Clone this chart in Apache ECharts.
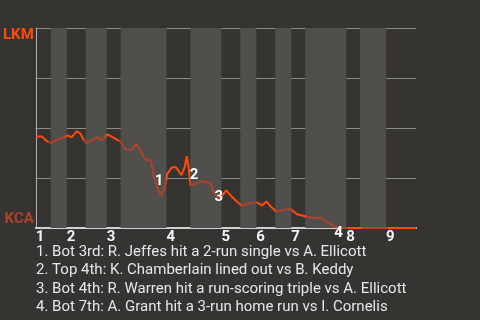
<!DOCTYPE html>
<html>
<head>
<meta charset="utf-8">
<script src="https://cdn.jsdelivr.net/npm/echarts@6/dist/echarts.min.js"></script>
<style>
html,body{margin:0;padding:0;background:#363430;}
#chart{width:480px;height:320px;}
</style>
</head>
<body>
<div id="chart"></div>
<script>
// Event index (x) and LKM win probability in % (y)
var eventX = [0, 6, 11.3, 15.3, 18.7, 23, 28, 32.3, 35.7, 41.3, 44.7, 47.3, 50.7, 55.3, 61.3, 66.3, 71.7, 78.3, 85, 90, 95.7, 100.7, 105.7, 109.3, 115, 118.3, 121.7, 125.7, 129, 131.7, 136.7, 140.7, 146, 149.3, 151.3, 153.3, 155, 160, 166.7, 170, 175.3, 179.3, 183.3, 187.3, 190.7, 196, 201.7, 207.3, 211.7, 221, 226.7, 231, 235.7, 241, 247.7, 255, 261.7, 270, 275.7, 282.3, 285, 291.7, 300, 305, 381];
var winProb = [45.8, 45.8, 43.4, 42.4, 43.4, 44.4, 45.4, 46.3, 45.3, 48.4, 47.1, 44.8, 42.4, 43.4, 45.4, 43.8, 46.8, 45.1, 43.1, 39.3, 39.1, 42.1, 38.1, 34.4, 33.8, 25.9, 20.1, 16.3, 20.1, 27.1, 30.4, 30.4, 26.4, 30.4, 35.9, 30.1, 21.3, 22.1, 23.4, 23.1, 22.1, 16.8, 15.1, 16.4, 18.8, 15.9, 13.1, 10.9, 12.3, 12.9, 11.3, 13.3, 10.6, 8.3, 8.9, 9.6, 6.9, 5.9, 5.3, 4.9, 5.3, 2.9, 0.6, 0, 0];
// Half-inning boundaries (event index): top1 start ... end of top9
var halfInningStarts = [0, 15, 31, 50, 71, 85, 131, 155, 186, 205, 221, 240, 256, 270, 311, 325, 351, 381];
var inningLabels = ['1', '2', '3', '4', '5', '6', '7', '8', '9'];
var teams = ['LKM', 'KCA'];
// Annotations
var annLabels = ['1', '2', '3', '4'];
var annX = [124, 159, 184, 304];
var annY = [23, 26, 15, -3];
var annTexts = [
  '1. Bot 3rd: R. Jeffes hit a 2-run single vs A. Ellicott',
  '2. Top 4th: K. Chamberlain lined out vs B. Keddy',
  '3. Bot 4th: R. Warren hit a run-scoring triple vs A. Ellicott',
  '4. Bot 7th: A. Grant hit a 3-run home run vs I. Cornelis'
];

var AWAY = '#ff4a0a', HOME = '#b0412c';
var FONT = 'Roboto, "Noto Sans", sans-serif';

var xMin = halfInningStarts[0], xMax = halfInningStarts[halfInningStarts.length - 1];
var lineData = eventX.map(function (x, i) { return [x, winProb[i]]; });
var bands = [], stops = [], inningStarts = [];
for (var i = 0; i < halfInningStarts.length - 1; i++) {
  var a = halfInningStarts[i], b = halfInningStarts[i + 1];
  var isTop = i % 2 === 0;
  var c = isTop ? AWAY : HOME;
  if (isTop) inningStarts.push(a);
  else bands.push([{ xAxis: a }, { xAxis: b }]);
  stops.push({ offset: (a - xMin) / (xMax - xMin), color: c });
  stops.push({ offset: (b - xMin) / (xMax - xMin), color: c });
}

var chart = echarts.init(document.getElementById('chart'));
chart.setOption({
  backgroundColor: '#363430',
  animation: false,
  title: {
    text: annTexts.join('\n'),
    left: 36, top: 243, padding: 0,
    textStyle: { fontFamily: FONT, fontSize: 15, fontWeight: 'normal', color: '#e6e6e6', lineHeight: 18.3 }
  },
  grid: { left: 35, right: 64, top: 28, height: 200 },
  xAxis: {
    type: 'value', min: xMin, max: xMax,
    offset: 1,
    splitLine: { show: false },
    axisTick: { show: false },
    axisLine: { show: true, lineStyle: { color: '#d0d0d0', width: 2 } },
    axisLabel: {
      customValues: inningStarts,
      align: 'left', margin: 1,
      color: '#f2f2f2', fontFamily: FONT, fontWeight: 'bold', fontSize: 15,
      formatter: function (v) { var k = inningStarts.indexOf(v); return k >= 0 ? inningLabels[k] : ''; }
    }
  },
  yAxis: {
    type: 'value', min: 0, max: 100, interval: 25,
    axisLine: { show: true, lineStyle: { color: '#b0b0b0', width: 1 } },
    axisTick: { show: false },
    splitLine: { show: true, lineStyle: { color: '#8c8b88', width: 1 } },
    axisLabel: {
      margin: 2,
      formatter: function (v) {
        if (v === 100) return '{a|' + teams[0] + '}';
        if (v === 0) return '{b|' + teams[1] + '}';
        return '';
      },
      rich: {
        a: { color: AWAY, fontFamily: FONT, fontWeight: 'bold', fontSize: 15, padding: [14, 0, 0, 0] },
        b: { color: HOME, fontFamily: FONT, fontWeight: 'bold', fontSize: 15, padding: [0, 0, 17, 0] }
      }
    }
  },
  series: [
    {
      type: 'line', data: lineData, symbol: 'none',
      lineStyle: {
        width: 2,
        color: new echarts.graphic.LinearGradient(0, 0, 1, 0, stops)
      },
      z: 3,
      markArea: {
        silent: true,
        itemStyle: { color: '#504f4c' },
        data: bands
      }
    },
    {
      type: 'scatter', clip: false, z: 5, silent: true,
      symbolSize: 1, itemStyle: { color: 'rgba(0,0,0,0)' },
      data: annX.map(function (x, i) { return [x, annY[i], annLabels[i]]; }),
      label: {
        show: true, position: [0, 0], align: 'center', verticalAlign: 'middle',
        opacity: 1, textBorderWidth: 0,
        formatter: function (p) { return p.data[2]; },
        color: '#ffffff', fontFamily: FONT, fontWeight: 'bold', fontSize: 15
      }
    }
  ]
});
</script>
</body>
</html>
